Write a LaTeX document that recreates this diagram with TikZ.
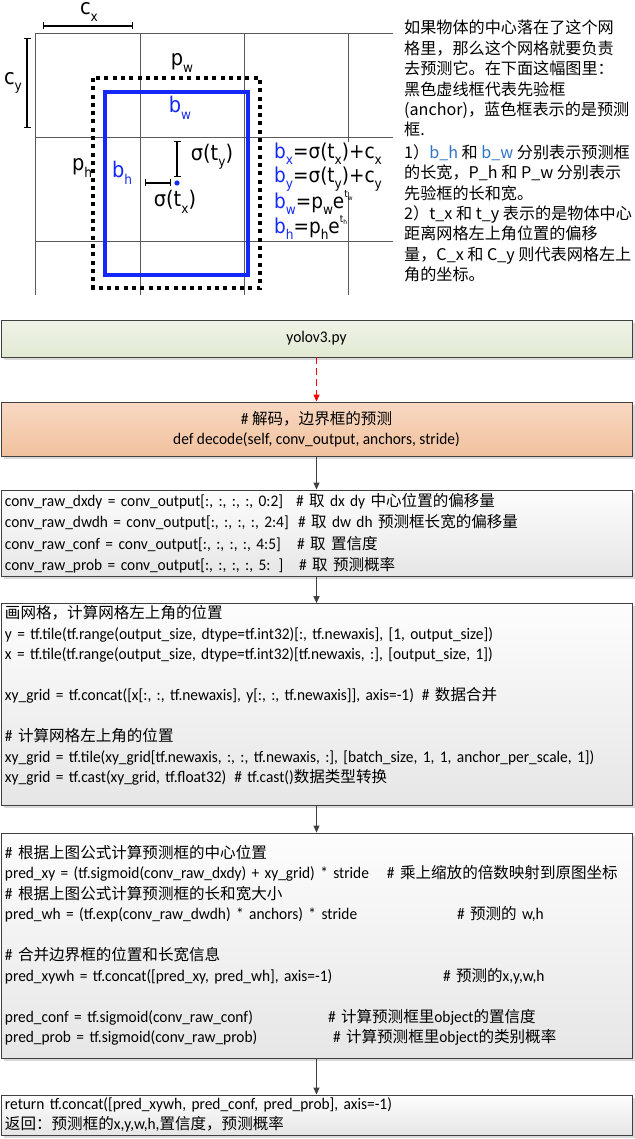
\documentclass[tikz,border=0pt]{standalone}
\usepackage{fontspec}
\usepackage{xcolor}
\usepackage{tikz}
\usetikzlibrary{arrows.meta,positioning,shadows}
\setmainfont[FakeStretch=0.95]{Carlito}
\newfontfamily\zhfont[Scale=0.96]{Noto Sans CJK SC}
\newfontfamily\symfont[FakeStretch=0.9]{DejaVu Sans}
\newcommand\zh[1]{{\zhfont #1}}
\newcommand\sub[1]{\raisebox{-0.3em}{\fontsize{13.5}{13.5}\selectfont #1}}
\newcommand\expo[2]{\raisebox{0.55em}{\fontsize{10}{10}\selectfont #1\raisebox{-0.25em}{\fontsize{6.5}{6.5}\selectfont #2}}}
\definecolor{bblue}{RGB}{20,40,250}
\definecolor{tblue}{RGB}{46,117,200}
\definecolor{pytop}{HTML}{EFF3E7}
\definecolor{pybot}{HTML}{E1E9D2}
\definecolor{dectop}{HTML}{F8D8C2}
\definecolor{decbot}{HTML}{F1C19D}
\definecolor{cdtop}{HTML}{FDFDFD}
\definecolor{cdbot}{HTML}{E6E6E6}

\begin{document}
\begin{tikzpicture}[x=1pt,y=-1pt,
  every node/.style={inner sep=0pt},
  lbl/.style={font=\symfont\fontsize{21.5}{24.5}\selectfont},
  eq/.style={font=\symfont\fontsize{20.5}{24.5}\selectfont,anchor=west,align=left},
  grd/.style={draw=black!65,line width=0.8pt},
  dim/.style={{Bar[width=7pt]}-{Bar[width=7pt]},line width=1.3pt},
  box/.style={draw=black!75,line width=0.9pt,minimum width=631pt,inner xsep=4pt,inner ysep=2pt,
    font=\fontsize{16.2}{20.5}\selectfont,
    drop shadow={shadow xshift=2.5pt,shadow yshift=-2.5pt,fill=black!15,opacity=1}},
  code/.style={box,text width=623pt,align=left,top color=cdtop,bottom color=cdbot},
  arr/.style={-{Triangle[length=7pt,width=6pt]},draw=black!75,line width=0.9pt}]
 \useasboundingbox (0,0) rectangle (634,1139);
 % grid cells, anchor box and predicted box
 \foreach \x in {35,140,244,348} \draw[grd] (\x,33) -- (\x,295);
 \foreach \y in {33,137,241} \draw[grd] (35,\y) -- (393,\y);
 \draw[line width=4pt,dash pattern=on 4pt off 4.3pt] (93,78) rectangle (260,288);
 \draw[bblue,line width=3.5pt] (105,92) rectangle (248,275);
 \draw[dim] (43,26) -- (133,26);
 \draw[dim] (27,38) -- (27,128);
 \draw[dim] (177,141) -- (177,177);
 \draw[dim] (145,183) -- (171,183);
 \fill[bblue] (177,183) circle (2.6pt);
 \node[lbl] (cx) at (89,12) {c\sub{x}};
 \node[lbl] (cy) at (13,83) {c\sub{y}};
 \node[lbl] (pw) at (182,63) {p\sub{w}};
 \node[lbl,bblue] (bw) at (180,108) {b\sub{w}};
 \node[lbl] (ph) at (82,168) {p\sub{h}};
 \node[lbl,bblue] (bh) at (122,173) {b\sub{h}};
 \node[lbl] (sy) at (212,157) {σ(t\sub{y})};
 \node[lbl] (sx) at (175,202) {σ(t\sub{x})};
 \node[eq,fill=white] (eqxy) at (274,167) {%
   \textcolor{bblue}{b\sub{x}}=σ(t\sub{x})+c\sub{x}\\
   \textcolor{bblue}{b\sub{y}}=σ(t\sub{y})+c\sub{y}};
 \node[eq] (eqwh) at (274,215) {%
   \textcolor{bblue}{b\sub{w}}=p\sub{w}e\expo{t}{w}\\
   \textcolor{bblue}{b\sub{h}}=p\sub{h}e\expo{t}{h}};
 \node[anchor=north west,align=left,font=\zhfont\fontsize{16.8}{20.4}\selectfont] (note) at (404,20) {%
   如果物体的中心落在了这个网\\
   格里，那么这个网格就要负责\\
   去预测它。在下面这幅图里：\\
   黑色虚线框代表先验框\\
   (anchor)，蓝色框表示的是预测\\
   框.\\[2pt]
   1）\textcolor{tblue}{b\_h} 和 \textcolor{tblue}{b\_w} 分别表示预测框\\
   的长宽，P\_h 和 P\_w 分别表示\\
   先验框的长和宽。\\
   2）t\_x 和 t\_y 表示的是物体中心\\
   距离网格左上角位置的偏移\\
   量，C\_x 和 C\_y 则代表网格左上\\
   角的坐标。};
 % flow of decode()
 \node[box,top color=pytop,bottom color=pybot,minimum height=37pt] (py) at (316.5,338.5) {yolov3.py};
 \node[box,top color=dectop,bottom color=decbot,minimum height=54pt,align=center] (dec) at (316.5,429)
   {\# \zh{解码，边界框的预测}\\def decode(self, conv\_output, anchors, stride)};
 \node[code,minimum height=86pt,font=\fontsize{16.2}{21.5}\selectfont] (raw) at (316.5,533) {%
   \makebox[291pt][l]{conv\_raw\_dxdy = conv\_output[:, :, :, :, 0:2]}\# \zh{取} dx dy \zh{中心位置的偏移量}\\
   \makebox[293pt][l]{conv\_raw\_dwdh = conv\_output[:, :, :, :, 2:4]}\# \zh{取} dw dh \zh{预测框长宽的偏移量}\\
   \makebox[292pt][l]{conv\_raw\_conf = conv\_output[:, :, :, :, 4:5]}\# \zh{取 置信度}\\
   \makebox[294pt][l]{conv\_raw\_prob = conv\_output[:, :, :, :, 5: ]}\# \zh{取 预测概率}};
 \node[code,minimum height=197pt] (grid) at (316.5,704.5) {%
   \zh{画网格，计算网格左上角的位置}\\
   y = tf.tile(tf.range(output\_size, dtype=tf.int32)[:, tf.newaxis], [1, output\_size])\\
   x = tf.tile(tf.range(output\_size, dtype=tf.int32)[tf.newaxis, :], [output\_size, 1])\\
   ~\\
   xy\_grid = tf.concat([x[:, :, tf.newaxis], y[:, :, tf.newaxis]], axis=-1)\hspace{8pt}\# \zh{数据合并}\\
   ~\\
   \# \zh{计算网格左上角的位置}\\
   xy\_grid = tf.tile(xy\_grid[tf.newaxis, :, :, tf.newaxis, :], [batch\_size, 1, 1, anchor\_per\_scale, 1])\\
   xy\_grid = tf.cast(xy\_grid, tf.float32)\hspace{8pt}\# tf.cast()\zh{数据类型转换}\\
   ~};
 \node[code,minimum height=225pt] (pred) at (316.5,945.5) {%
   \# \zh{根据上图公式计算预测框的中心位置}\\
   \makebox[382pt][l]{pred\_xy = (tf.sigmoid(conv\_raw\_dxdy) + xy\_grid) * stride}\# \zh{乘上缩放的倍数映射到原图坐标}\\
   \# \zh{根据上图公式计算预测框的长和宽大小}\\
   \makebox[452pt][l]{pred\_wh = (tf.exp(conv\_raw\_dwdh) * anchors) * stride}\# \zh{预测的} w,h\\
   ~\\
   \# \zh{合并边界框的位置和长宽信息}\\
   \makebox[438pt][l]{pred\_xywh = tf.concat([pred\_xy, pred\_wh], axis=-1)}\# \zh{预测的}x,y,w,h\\
   ~\\
   \makebox[323pt][l]{pred\_conf = tf.sigmoid(conv\_raw\_conf)}\# \zh{计算预测框里}object\zh{的置信度}\\
   \makebox[328pt][l]{pred\_prob = tf.sigmoid(conv\_raw\_prob)}\# \zh{计算预测框里}object\zh{的类别概率}};
 \node[code,minimum height=40pt] (ret) at (316.5,1115) {%
   return tf.concat([pred\_xywh, pred\_conf, pred\_prob], axis=-1)\\
   \zh{返回：预测框的}x,y,w,h,\zh{置信度，预测概率}};
 \draw[arr,draw=red,dash pattern=on 7pt off 4pt] (py) -- (dec);
 \foreach \a/\b in {dec/raw,raw/grid,grid/pred,pred/ret}
   \draw[arr] (\a) -- (\b);
\end{tikzpicture}
\end{document}
